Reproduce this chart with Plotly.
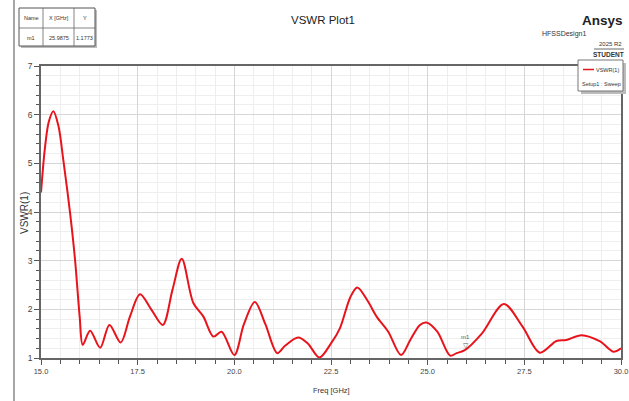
import plotly.graph_objects as go

# ---- data ----
freq_ghz = [15.0, 15.1, 15.2, 15.32, 15.45, 15.58, 15.75, 15.88, 16.0, 16.08,
            16.27, 16.53, 16.77, 17.06, 17.3, 17.56, 17.85, 18.15, 18.4, 18.64,
            18.94, 19.2, 19.46, 19.67, 20.0, 20.25, 20.53, 20.8, 21.11, 21.31,
            21.65, 21.9, 22.2, 22.5, 22.73, 23.0, 23.18, 23.45, 23.68, 23.98,
            24.31, 24.55, 24.8, 24.97, 25.25, 25.58, 25.75, 25.96, 26.4, 26.97,
            27.45, 27.9, 28.33, 28.59, 28.98, 29.46, 29.8, 30.0]
vswr = [4.40, 5.30, 5.85, 6.07, 5.77, 5.05, 3.99, 3.02, 1.85, 1.27,
        1.56, 1.21, 1.68, 1.32, 1.85, 2.31, 2.00, 1.68, 2.40, 3.04,
        2.13, 1.85, 1.44, 1.54, 1.06, 1.70, 2.15, 1.70, 1.10, 1.25,
        1.42, 1.30, 1.01, 1.30, 1.61, 2.25, 2.45, 2.17, 1.85, 1.54,
        1.06, 1.37, 1.68, 1.73, 1.54, 1.05, 1.10, 1.16, 1.50, 2.11,
        1.65, 1.11, 1.35, 1.37, 1.47, 1.34, 1.13, 1.20]

x_tick_vals = [15.0, 17.5, 20.0, 22.5, 25.0, 27.5, 30.0]
x_tick_text = ["15.0", "17.5", "20.0", "22.5", "25.0", "27.5", "30.0"]
y_tick_vals = [1, 2, 3, 4, 5, 6, 7]

marker_name = "m1"
marker_x = 25.9875
marker_y = 1.1773

# ---- layout geometry (pixels) ----
W, H = 629, 401
L, R, T, B = 41, 621, 66, 358          # plot area
def PX(px):
    return (px - L) / (R - L)
def PY(py):
    return (B - py) / (B - T)

FONT = "Liberation Sans, Arial, sans-serif"
RED = "#e8141c"

fig = go.Figure()
fig.add_trace(go.Scatter(
    x=freq_ghz, y=vswr, mode="lines",
    line=dict(color=RED, width=2, shape="spline", smoothing=0.9),
    showlegend=False, hoverinfo="x+y"))

fig.update_layout(
    width=W, height=H,
    margin=dict(l=L, r=W - R, t=T, b=H - B),
    paper_bgcolor="white", plot_bgcolor="white",
    font=dict(family=FONT, color="#333333", size=8),
    xaxis=dict(range=[15, 30], tickvals=x_tick_vals, ticktext=x_tick_text,
               automargin=False,
               showgrid=True, gridcolor="#d6d6d6", gridwidth=1,
               minor=dict(dtick=0.5, showgrid=True, gridcolor="#eeeeee",
                          ticks="outside", ticklen=4, tickcolor="#555"),
               ticks="outside", ticklen=5, tickcolor="#555",
               showline=True, linecolor="#666666", linewidth=1.5, mirror=True,
               zeroline=False, tickfont=dict(size=7.5, color="#444")),
    yaxis=dict(range=[1, 7], tickvals=y_tick_vals,
               automargin=False,
               showgrid=True, gridcolor="#d6d6d6", gridwidth=1,
               minor=dict(dtick=0.2, showgrid=True, gridcolor="#eeeeee",
                          ticks="outside", ticklen=3, tickcolor="#555"),
               ticks="outside", ticklen=5, tickcolor="#555",
               showline=True, linecolor="#666666", linewidth=1.5, mirror=True,
               zeroline=False, tickfont=dict(size=8.5, color="#444")),
)

shapes = []
ann = []

# left frame line
shapes.append(dict(type="line", xref="paper", yref="paper",
                   x0=PX(14), x1=PX(14), y0=PY(0), y1=PY(401),
                   line=dict(color="#888888", width=1.5)))

# marker table
tx0, tx1, ty0, ty1 = 19, 95, 8, 46
shapes.append(dict(type="rect", xref="paper", yref="paper",
                   x0=PX(tx0 + 2), x1=PX(tx1 + 2), y0=PY(ty0 + 2), y1=PY(ty1 + 2),
                   line=dict(width=0), fillcolor="#bbbbbb"))
shapes.append(dict(type="rect", xref="paper", yref="paper",
                   x0=PX(tx0), x1=PX(tx1), y0=PY(ty0), y1=PY(ty1),
                   line=dict(color="#555", width=1), fillcolor="white"))
for cx in (43, 74):
    shapes.append(dict(type="line", xref="paper", yref="paper",
                       x0=PX(cx), x1=PX(cx), y0=PY(ty0), y1=PY(ty1),
                       line=dict(color="#666", width=0.8)))
shapes.append(dict(type="line", xref="paper", yref="paper",
                   x0=PX(tx0), x1=PX(tx1), y0=PY(28), y1=PY(28),
                   line=dict(color="#666", width=0.8)))
cells = [("Name", 31, 18), ("X [GHz]", 58.5, 18), ("Y", 84.5, 18),
         (marker_name, 31, 37.5), (f"{marker_x:.4f}", 58.5, 37.5), (f"{marker_y:.4f}", 84.5, 37.5)]
for txt, cx, cy in cells:
    ann.append(dict(text=txt, xref="paper", yref="paper", x=PX(cx), y=PY(cy),
                    showarrow=False, xanchor="center", yanchor="middle",
                    font=dict(size=5.5, color="#333")))

# title and branding
ann.append(dict(text="VSWR Plot1", xref="paper", yref="paper", x=PX(323), y=PY(20),
                showarrow=False, xanchor="center", yanchor="middle",
                font=dict(size=11.5, color="#222")))
ann.append(dict(text="<b>Ansys</b>", xref="paper", yref="paper", x=PX(625), y=PY(21),
                showarrow=False, xanchor="right", yanchor="middle",
                font=dict(size=13.5, color="#222")))
ann.append(dict(text="HFSSDesign1", xref="paper", yref="paper", x=PX(588), y=PY(34),
                showarrow=False, xanchor="right", yanchor="middle",
                font=dict(size=7, color="#333")))
ann.append(dict(text="2025 R2", xref="paper", yref="paper", x=PX(624), y=PY(44),
                showarrow=False, xanchor="right", yanchor="middle",
                font=dict(size=6, color="#333")))
shapes.append(dict(type="line", xref="paper", yref="paper",
                   x0=PX(594), x1=PX(624), y0=PY(49), y1=PY(49),
                   line=dict(color="#444", width=0.8)))
ann.append(dict(text="<b>STUDENT</b>", xref="paper", yref="paper", x=PX(626), y=PY(54),
                showarrow=False, xanchor="right", yanchor="middle",
                font=dict(size=6.5, color="#333")))

# legend box
lx0, lx1, ly0, ly1 = 578, 623, 60, 91
shapes.append(dict(type="rect", xref="paper", yref="paper",
                   x0=PX(lx0 + 3), x1=PX(lx1 + 3), y0=PY(ly0 + 3), y1=PY(ly1 + 3),
                   line=dict(width=0), fillcolor="#bbbbbb"))
shapes.append(dict(type="rect", xref="paper", yref="paper",
                   x0=PX(lx0), x1=PX(lx1), y0=PY(ly0), y1=PY(ly1),
                   line=dict(color="#777", width=1), fillcolor="white"))
shapes.append(dict(type="line", xref="paper", yref="paper",
                   x0=PX(583), x1=PX(594), y0=PY(69.5), y1=PY(69.5),
                   line=dict(color=RED, width=1.5)))
ann.append(dict(text="VSWR(1)", xref="paper", yref="paper", x=PX(621), y=PY(70),
                showarrow=False, xanchor="right", yanchor="middle",
                font=dict(size=5.5, color="#333")))
ann.append(dict(text="Setup1 : Sweep", xref="paper", yref="paper", x=PX(580), y=PY(84),
                showarrow=False, xanchor="left", yanchor="middle",
                font=dict(size=5.5, color="#333")))

# marker m1 on the curve
ann.append(dict(text="▽", x=marker_x, y=marker_y, xref="x", yref="y",
                showarrow=False, xanchor="center", yanchor="bottom", yshift=-2,
                font=dict(size=7, color="#555")))
ann.append(dict(text=marker_name, x=marker_x, y=marker_y, xref="x", yref="y",
                showarrow=False, xanchor="center", yanchor="bottom", yshift=7,
                font=dict(size=6, color="#555")))

# axis titles
ann.append(dict(text="Freq [GHz]", xref="paper", yref="paper", x=PX(331), y=PY(390),
                showarrow=False, xanchor="center", yanchor="middle",
                font=dict(size=7.5, color="#333")))
ann.append(dict(text="VSWR(1)", xref="paper", yref="paper", x=PX(24), y=PY(213),
                showarrow=False, xanchor="center", yanchor="middle", textangle=-90,
                font=dict(size=10, color="#333")))

fig.update_layout(shapes=shapes, annotations=ann)
fig.write_html("out.html",
               config={"displayModeBar": False},
               post_script="document.body.style.margin='0';"
                           "document.documentElement.style.overflow='hidden';")
